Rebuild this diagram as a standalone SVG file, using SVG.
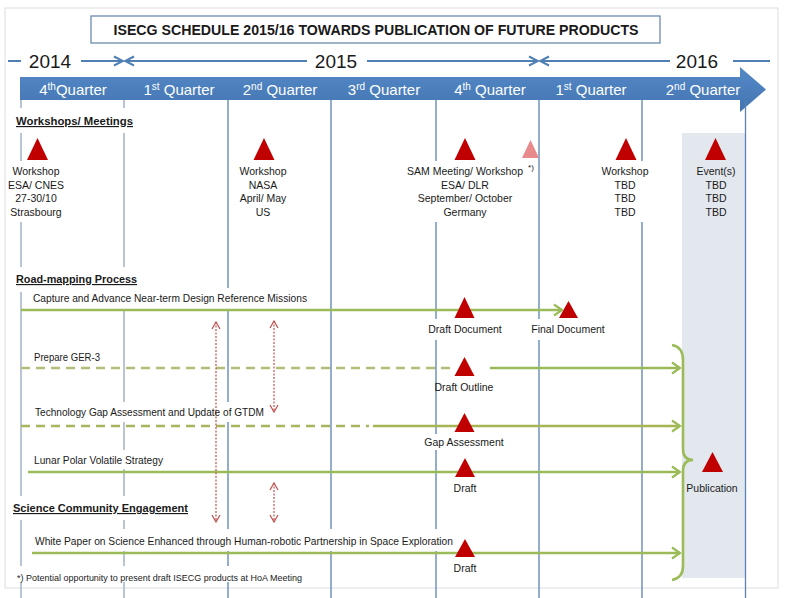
<svg xmlns="http://www.w3.org/2000/svg" width="790" height="598" viewBox="0 0 790 598">
<defs>
<linearGradient id="barGrad" x1="0" y1="0" x2="0" y2="1">
<stop offset="0" stop-color="#5589c6"/>
<stop offset="1" stop-color="#4274b2"/>
</linearGradient>
<marker id="gArrow" markerUnits="userSpaceOnUse" markerWidth="12" markerHeight="14" refX="9" refY="7" orient="auto">
<path d="M1,1.5 L9,7 L1,12.5" fill="none" stroke="#9bbb59" stroke-width="2.2"/>
</marker>
<marker id="oArrow" markerUnits="userSpaceOnUse" markerWidth="12" markerHeight="14" refX="9" refY="7" orient="auto">
<path d="M1,1.5 L9,7 L1,12.5" fill="none" stroke="#9bbb59" stroke-width="2.2"/>
</marker>
<marker id="bArrow" markerUnits="userSpaceOnUse" markerWidth="12" markerHeight="12" refX="10" refY="6" orient="auto-start-reverse">
<path d="M1,1.5 L10,6 L1,10.5" fill="none" stroke="#4f7fb5" stroke-width="2"/>
</marker>
<marker id="rArrow" markerUnits="userSpaceOnUse" markerWidth="10" markerHeight="10" refX="8" refY="5" orient="auto-start-reverse">
<path d="M1,1 L8,5 L1,9" fill="none" stroke="#c0504d" stroke-width="1.2"/>
</marker>
</defs>
<style>
text { font-family: "Liberation Sans", Arial, sans-serif; fill: #1a1a1a; }
.title { font-size: 14.5px; font-weight: bold; }
.year { font-size: 19px; }
.q { font-size: 15px; fill: #ffffff; }
.sup { font-size: 10px; }
.hdr { font-size: 11.5px; font-weight: bold; text-decoration: underline; }
.lbl { font-size: 10.5px; }
.c { text-anchor: middle; }
.foot { font-size: 9px; }
.vgrey { stroke: #b9c5d4; stroke-width: 2; }
.vblue { stroke: #5a82b4; stroke-width: 1.3; }
.bg { fill: #ffffff; }
.tri { fill: #c00000; }
.tri-pale { fill: #e8898c; }
.gline { stroke: #9bbb59; stroke-width: 2.6; fill: none; }
.gdash { stroke: #b3bf78; stroke-width: 2.6; stroke-dasharray: 9 6; fill: none; }
.odash { stroke: #a9b45c; stroke-width: 2.6; stroke-dasharray: 9 6; fill: none; }
.oline { stroke: #a6b552; stroke-width: 2.6; fill: none; }
.red { stroke: #c0504d; stroke-width: 1.2; stroke-dasharray: 2 1.5; fill: none; }
.yr { stroke: #4f7fb5; stroke-width: 2; fill: none; }
</style>
<rect x="0" y="0" width="790" height="598" fill="#ffffff"/>
<rect x="5" y="8" width="773" height="580" fill="none" stroke="#dadde2" stroke-width="1"/>
<g id="title">
<rect x="91" y="16" width="569" height="27" fill="#ffffff" stroke="#6c8bb0" stroke-width="1.3"/>
<text class="title c" x="376" y="35" textLength="525" lengthAdjust="spacingAndGlyphs">ISECG SCHEDULE 2015/16 TOWARDS PUBLICATION OF FUTURE PRODUCTS</text>
</g>
<g id="years">
<text class="year c" x="50" y="68">2014</text>
<text class="year c" x="336" y="68">2015</text>
<text class="year c" x="697" y="68">2016</text>
</g>
<g id="timeline-bar">
<path d="M20,77 L740,77 L740,67 L766,89.5 L740,112 L740,100 L20,100 Z" fill="url(#barGrad)"/>
<text class="q c" x="73" y="95">4<tspan class="sup" dy="-5">th</tspan><tspan dy="5">Quarter</tspan></text>
<text class="q c" x="179" y="95">1<tspan class="sup" dy="-5">st</tspan><tspan dy="5"> Quarter</tspan></text>
<text class="q c" x="280" y="95">2<tspan class="sup" dy="-5">nd</tspan><tspan dy="5"> Quarter</tspan></text>
<text class="q c" x="384" y="95">3<tspan class="sup" dy="-5">rd</tspan><tspan dy="5"> Quarter</tspan></text>
<text class="q c" x="490" y="95">4<tspan class="sup" dy="-5">th</tspan><tspan dy="5"> Quarter</tspan></text>
<text class="q c" x="591" y="95">1<tspan class="sup" dy="-5">st</tspan><tspan dy="5"> Quarter</tspan></text>
<text class="q c" x="703" y="95">2<tspan class="sup" dy="-5">nd</tspan><tspan dy="5"> Quarter</tspan></text>
</g>
<rect id="publication-column" x="682" y="133" width="64" height="445" fill="#e3e8ef"/>
<g id="quarter-dividers">
<line class="vgrey" x1="21" y1="100" x2="21" y2="598"/>
<line class="vgrey" x1="124" y1="100" x2="124" y2="598"/>
<line class="vblue" x1="228" y1="100" x2="228" y2="598"/>
<line class="vblue" x1="331" y1="100" x2="331" y2="598"/>
<line class="vblue" x1="436" y1="100" x2="436" y2="598"/>
<line class="vblue" x1="539" y1="100" x2="539" y2="598"/>
<line class="vblue" x1="642" y1="100" x2="642" y2="598"/>
<line class="vblue" x1="745.5" y1="100" x2="745.5" y2="598"/>
</g>
<g id="text-backgrounds">
<rect class="bg" x="12" y="108" width="126" height="25"/>
<rect class="bg" x="8" y="161" width="58" height="61"/>
<rect class="bg" x="405" y="161" width="120" height="61"/>
<rect class="bg" x="600" y="161" width="50" height="61"/>
<rect class="bg" x="12" y="267" width="130" height="25"/>
<rect class="bg" x="31" y="288" width="280" height="21"/>
<rect class="bg" x="420" y="319" width="90" height="21"/>
<rect class="bg" x="525" y="319" width="88" height="21"/>
<rect class="bg" x="31" y="402" width="238" height="20"/>
<rect class="bg" x="425" y="434" width="80" height="16"/>
<rect class="bg" x="31" y="450" width="136" height="19"/>
<rect class="bg" x="10" y="496" width="184" height="24"/>
<rect class="bg" x="31" y="529" width="426" height="22"/>
<rect class="bg" x="12" y="566" width="294" height="16"/>
</g>
<g id="section-headers">
<text class="hdr" x="16" y="125" textLength="117" lengthAdjust="spacingAndGlyphs">Workshops/ Meetings</text>
<text class="hdr" x="16" y="283" textLength="121" lengthAdjust="spacingAndGlyphs">Road-mapping Process</text>
<text class="hdr" x="13" y="512" textLength="175" lengthAdjust="spacingAndGlyphs">Science Community Engagement</text>
</g>
<g id="connectors">
<line class="yr" x1="8" y1="61" x2="21" y2="61"/>
<line class="yr" x1="81" y1="61" x2="123" y2="61" marker-end="url(#bArrow)"/>
<line class="yr" x1="125" y1="61" x2="307" y2="61" marker-start="url(#bArrow)"/>
<line class="yr" x1="367" y1="61" x2="538" y2="61" marker-end="url(#bArrow)"/>
<line class="yr" x1="540" y1="61" x2="670" y2="61" marker-start="url(#bArrow)"/>
<line class="yr" x1="733" y1="61" x2="770" y2="61"/>
<line class="gline" x1="21" y1="310" x2="562" y2="310" marker-end="url(#gArrow)"/>
<line class="gdash" x1="21" y1="368" x2="450" y2="368"/>
<line class="gline" x1="490" y1="368" x2="680" y2="368" marker-end="url(#gArrow)"/>
<line class="odash" x1="21" y1="426" x2="369" y2="426"/>
<line class="oline" x1="373" y1="426" x2="680" y2="426" marker-end="url(#oArrow)"/>
<line class="gline" x1="28" y1="472" x2="680" y2="472" marker-end="url(#gArrow)"/>
<line class="gline" x1="32" y1="553" x2="680" y2="553" marker-end="url(#gArrow)"/>
<path class="gline" d="M672,345 Q683,347 683,360 L683,449 Q683,460 693,460 Q683,460 683,471 L683,566 Q683,578 672,580"/>
<line class="red" x1="216" y1="322" x2="216" y2="522" marker-start="url(#rArrow)" marker-end="url(#rArrow)"/>
<line class="red" x1="274" y1="321" x2="274" y2="412" marker-start="url(#rArrow)" marker-end="url(#rArrow)"/>
<line class="red" x1="274" y1="483" x2="274" y2="522" marker-start="url(#rArrow)" marker-end="url(#rArrow)"/>
</g>
<g id="workshop-esa-cnes">
<polygon class="tri" points="27,160 37.5,138 48,160"/>
<text class="lbl c" x="36" y="175">Workshop</text>
<text class="lbl c" x="36" y="188.5">ESA/ CNES</text>
<text class="lbl c" x="36" y="202">27-30/10</text>
<text class="lbl c" x="36" y="215.5">Strasbourg</text>
</g>
<g id="workshop-nasa">
<polygon class="tri" points="253.5,160 264,138 274.5,160"/>
<text class="lbl c" x="263" y="175">Workshop</text>
<text class="lbl c" x="263" y="188.5">NASA</text>
<text class="lbl c" x="263" y="202">April/ May</text>
<text class="lbl c" x="263" y="215.5">US</text>
</g>
<g id="sam-meeting">
<polygon class="tri" points="454.5,160 465,138 475.5,160"/>
<text class="lbl c" x="465" y="175">SAM Meeting/ Workshop</text>
<text class="lbl c" x="465" y="188.5">ESA/ DLR</text>
<text class="lbl c" x="465" y="202">September/ October</text>
<text class="lbl c" x="465" y="215.5">Germany</text>
</g>
<g id="hoa-meeting">
<polygon class="tri-pale" points="522,158 530.5,140 539,158"/>
<text class="c" x="531" y="170" font-size="8">*)</text>
</g>
<g id="workshop-tbd">
<polygon class="tri" points="615.5,160 626,138 636.5,160"/>
<text class="lbl c" x="625" y="175">Workshop</text>
<text class="lbl c" x="625" y="188.5">TBD</text>
<text class="lbl c" x="625" y="202">TBD</text>
<text class="lbl c" x="625" y="215.5">TBD</text>
</g>
<g id="events-tbd">
<polygon class="tri" points="705,160 715.5,138 726,160"/>
<text class="lbl c" x="716" y="175">Event(s)</text>
<text class="lbl c" x="716" y="188.5">TBD</text>
<text class="lbl c" x="716" y="202">TBD</text>
<text class="lbl c" x="716" y="215.5">TBD</text>
</g>
<g id="drm">
<text class="lbl" x="33" y="302" textLength="274" lengthAdjust="spacingAndGlyphs">Capture and Advance Near-term Design Reference Missions</text>
<polygon class="tri" points="454.5,318 464.5,297 474.5,318"/>
<text class="lbl c" x="465" y="333">Draft Document</text>
<polygon class="tri" points="559,318 568.5,301 578,318"/>
<text class="lbl c" x="568" y="333">Final Document</text>
</g>
<g id="ger3">
<text class="lbl" x="34" y="361" textLength="66" lengthAdjust="spacingAndGlyphs">Prepare GER-3</text>
<polygon class="tri" points="454.5,376 464.5,357 474.5,376"/>
<text class="lbl c" x="464" y="391">Draft Outline</text>
</g>
<g id="gap-assessment">
<text class="lbl" x="35" y="416" textLength="229" lengthAdjust="spacingAndGlyphs">Technology Gap Assessment and Update of GTDM</text>
<polygon class="tri" points="454.5,432 464.5,413 474.5,432"/>
<text class="lbl c" x="464" y="446">Gap Assessment</text>
</g>
<g id="lunar-polar">
<text class="lbl" x="34" y="464" textLength="129" lengthAdjust="spacingAndGlyphs">Lunar Polar Volatile Strategy</text>
<polygon class="tri" points="455,477 465,458 475,477"/>
<text class="lbl c" x="465" y="492">Draft</text>
</g>
<g id="publication">
<polygon class="tri" points="702,472 712.5,452 723,472"/>
<text class="lbl c" x="712" y="492">Publication</text>
</g>
<g id="white-paper">
<text class="lbl" x="35" y="545" textLength="418" lengthAdjust="spacingAndGlyphs">White Paper on Science Enhanced through Human-robotic Partnership in Space Exploration</text>
<polygon class="tri" points="455,557 465,539 475,557"/>
<text class="lbl c" x="465" y="572">Draft</text>
</g>
<g id="footnote">
<text class="foot" x="17" y="581" textLength="285" lengthAdjust="spacingAndGlyphs">*) Potential opportunity to present draft ISECG products at HoA Meeting</text>
</g>
</svg>
